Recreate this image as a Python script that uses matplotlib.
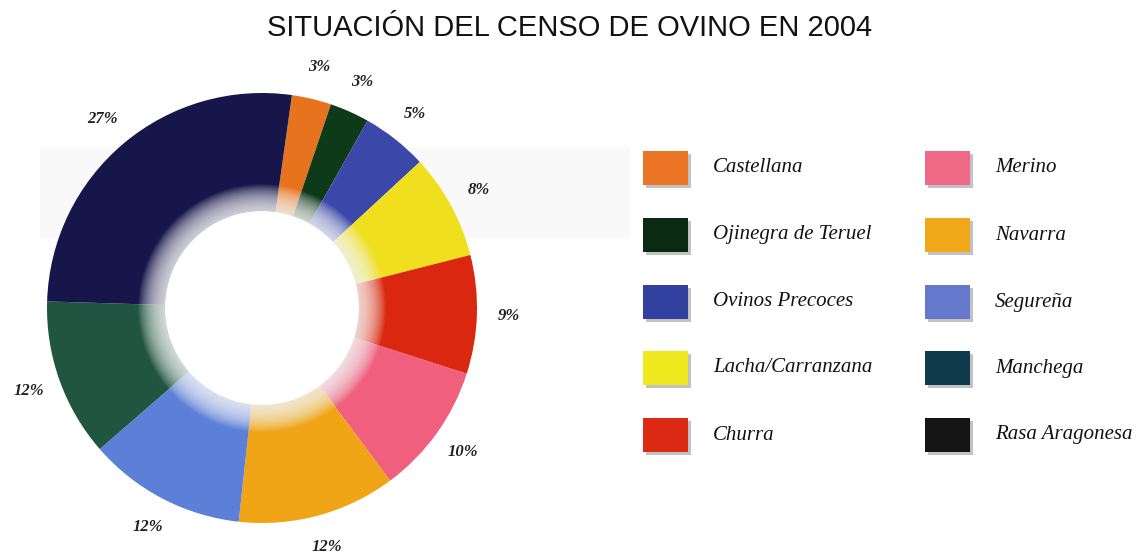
import matplotlib
matplotlib.use("Agg")
import matplotlib.pyplot as plt
from matplotlib.patches import Rectangle, Circle

W, H = 1139, 554

# ---- data ----
breeds = ["Castellana", "Ojinegra de Teruel", "Ovinos Precoces", "Lacha/Carranzana",
          "Churra", "Merino", "Navarra", "Segureña", "Manchega", "Rasa Aragonesa"]
shares = [3, 3, 5, 8, 9, 10, 12, 12, 12, 27]
title = "SITUACIÓN DEL CENSO DE OVINO EN 2004"

# ---- styles ----
pie_colors = ["#E8731E", "#0E3A1A", "#3B48AA", "#F0DF1E", "#D9280F",
              "#F0607E", "#F0A516", "#5C80D8", "#1F5541", "#16164A"]
legend_colors = ["#EC7425", "#0B2A12", "#3240A0", "#F0E81E", "#DC2A14",
                 "#F06A88", "#F0A818", "#6478CC", "#0E3A4C", "#141414"]

fig = plt.figure(figsize=(W / 100, H / 100), dpi=100)
fig.patch.set_facecolor("white")

# faint scan background band
fig.add_artist(Rectangle((40 / W, 1 - 238 / H), 590 / W, 91 / H, transform=fig.transFigure,
                         facecolor="#f9f9f9", edgecolor="none", zorder=0))

# pie axes: center (262, 308) px, radius 215 px
R = 215
cx, cy = 262, 308
lim = 1.25
half = lim * R
ax = fig.add_axes([(cx - half) / W, (H - cy - half) / H, 2 * half / W, 2 * half / H])
ax.set_xlim(-lim, lim)
ax.set_ylim(-lim, lim)
ax.set_aspect("equal")
ax.axis("off")
ax.patch.set_alpha(0)

inner = 0.45
labels = [f"{v}%" for v in shares]
wedges, texts = ax.pie(shares, colors=pie_colors, startangle=82, counterclock=False,
                       radius=1.0, labels=labels, labeldistance=1.15,
                       wedgeprops=dict(width=1 - inner, edgecolor="none"),
                       textprops=dict(family="Liberation Serif", style="italic",
                                      weight="bold", fontsize=12, color="#222222"))
for t in texts:
    t.set_ha("center")
    t.set_va("center")
    t.set_clip_on(False)

# white hole with soft inner glow
n = 28
for i in range(n):
    ax.add_patch(Circle((0, 0), inner + 0.0045 * (n - i), facecolor="white",
                        edgecolor="none", alpha=0.06, zorder=3))
ax.add_patch(Circle((0, 0), inner, facecolor="white", edgecolor="none", zorder=4))

# title
fig.text(570 / W, 1 - 28 / H, title, ha="center", va="center",
         family="Liberation Sans", fontsize=21, color="#111111")

# legend (two columns of five)
col_sq_x = [643, 925]
col_tx_x = [713, 995]
row_y = [168, 235, 302, 368, 435]
sq_w, sq_h = 45, 34
for i, (name, col) in enumerate(zip(breeds, legend_colors)):
    c, r = divmod(i, 5)
    x0 = col_sq_x[c]
    yc = row_y[r]
    fig.add_artist(Rectangle(((x0 + 3) / W, 1 - (yc + sq_h / 2 + 3) / H), sq_w / W, sq_h / H,
                             transform=fig.transFigure, facecolor="#9a9a9a",
                             edgecolor="none", alpha=0.6))
    fig.add_artist(Rectangle((x0 / W, 1 - (yc + sq_h / 2) / H), sq_w / W, sq_h / H,
                             transform=fig.transFigure, facecolor=col, edgecolor="none"))
    fig.text(col_tx_x[c] / W, 1 - yc / H, name, ha="left", va="center",
             family="Liberation Serif", style="italic", fontsize=15, color="#111111")

fig.savefig("out.png", dpi=100)
